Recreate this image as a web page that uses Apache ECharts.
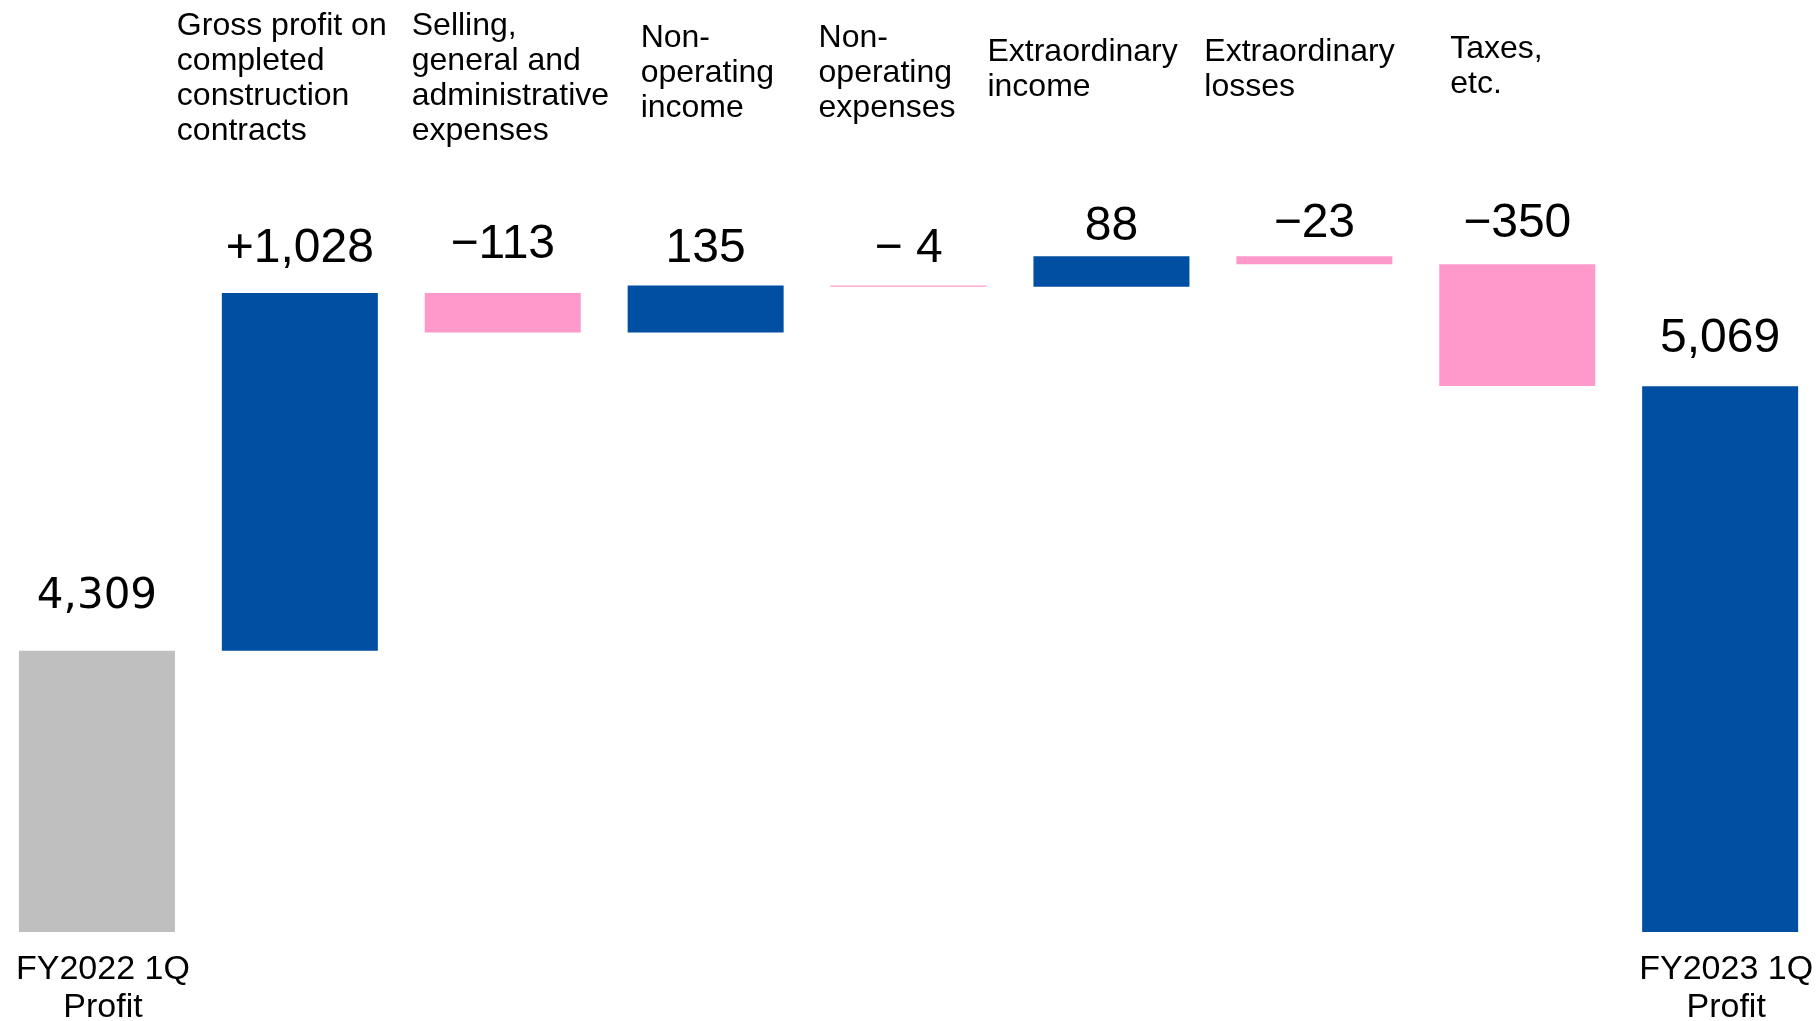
<!DOCTYPE html>
<html>
<head>
<meta charset="utf-8">
<script src="https://cdn.jsdelivr.net/npm/echarts@6/dist/echarts.min.js"></script>
<style>html,body{margin:0;padding:0;background:#fff;}#c{width:1819px;height:1021px;}</style>
</head>
<body>
<div id="c"></div>
<script>
// ---- data ----
const categories = ['FY2022 1Q Profit', 'Gross profit', 'SG&A', 'Non-operating income', 'Non-operating expenses', 'Extraordinary income', 'Extraordinary losses', 'Taxes, etc.', 'FY2023 1Q Profit'];
const topLabels = ['', 'Gross profit on\ncompleted\nconstruction\ncontracts', 'Selling,\ngeneral and\nadministrative\nexpenses', 'Non-\noperating\nincome', 'Non-\noperating\nexpenses', 'Extraordinary\nincome', 'Extraordinary\nlosses', 'Taxes,\netc.', ''];
const bottomLabels = ['FY2022 1Q\nProfit', '', '', '', '', '', '', '', 'FY2023 1Q\nProfit'];
const startValue = 4309;
const deltas = [1028, -113, 135, -4, 88, -23, -350];
const endValue = 5069;
const valueLabels = ['4,309', '+1,028', '\u2212113', '135', '\u2212 4', '88', '\u221223', '\u2212350', '5,069'];

// ---- styles / layout (not data) ----
const BLUE = '#004FA2', PINK = '#FF99CC', GRAY = '#BFBFBF';
const labelGap = [33, 20, 24, 13, 13, 5, 8, 16, 24];
const topLabelDx = [0, -123, -91, -65, -90, -124, -110, -67, 0];
const topLabelY = [0, 9, 9, 20.5, 20.5, 34.5, 34.5, 32, 0];

// ---- build waterfall ----
const base = [0];
const vis = [startValue];
const colors = [GRAY];
let run = startValue;
deltas.forEach(d => {
  const next = run + d;
  base.push(Math.min(run, next));
  vis.push(Math.abs(d));
  colors.push(d >= 0 ? BLUE : PINK);
  run = next;
});
base.push(0); vis.push(endValue); colors.push(BLUE);

const visData = vis.map((v, i) => {
  const isStart = i === 0;
  return {
    value: v,
    itemStyle: { color: colors[i] },
    label: {
      distance: labelGap[i],
      fontFamily: isStart ? 'DejaVu Sans' : 'Liberation Sans',
      fontSize: isStart ? 42 : 48,
      lineHeight: isStart ? 42 : 48
    }
  };
});

const chart = echarts.init(document.getElementById('c'), null, { renderer: 'canvas' });
chart.setOption({
  animation: false,
  backgroundColor: '#fff',
  grid: { left: -4.5, right: -2.6, top: 62.5, bottom: 89, outerBoundsMode: 'none', containLabel: false },
  xAxis: {
    type: 'category',
    data: categories,
    axisLine: { show: false },
    axisTick: { show: false },
    axisLabel: {
      interval: 0,
      margin: 19,
      color: '#000',
      fontFamily: 'Liberation Sans',
      fontSize: 34,
      lineHeight: 38,
      padding: [0, 0, 0, 12],
      formatter: (v, i) => bottomLabels[i]
    }
  },
  yAxis: {
    type: 'value', min: 3500, max: 6000,
    show: false,
    splitLine: { show: false }
  },
  series: [
    {
      type: 'bar', stack: 'w', data: base, barWidth: 156,
      itemStyle: { color: 'rgba(0,0,0,0)' },
      emphasis: { disabled: true }, silent: true
    },
    {
      type: 'bar', stack: 'w', data: visData, barWidth: 156,
      label: {
        show: true, position: 'top', color: '#000',
        formatter: p => valueLabels[p.dataIndex]
      },
      emphasis: { disabled: true }
    }
  ]
});

// category captions above the bars
const graphics = [];
topLabels.forEach((t, i) => {
  if (!t) return;
  const cx = chart.convertToPixel({ xAxisIndex: 0 }, categories[i]);
  graphics.push({
    type: 'text',
    x: cx + topLabelDx[i],
    y: topLabelY[i],
    style: {
      text: t,
      fill: '#000',
      font: '32px "Liberation Sans"',
      lineHeight: 35,
      align: 'left',
      verticalAlign: 'top'
    }
  });
});
chart.setOption({ graphic: graphics });
</script>
</body>
</html>
